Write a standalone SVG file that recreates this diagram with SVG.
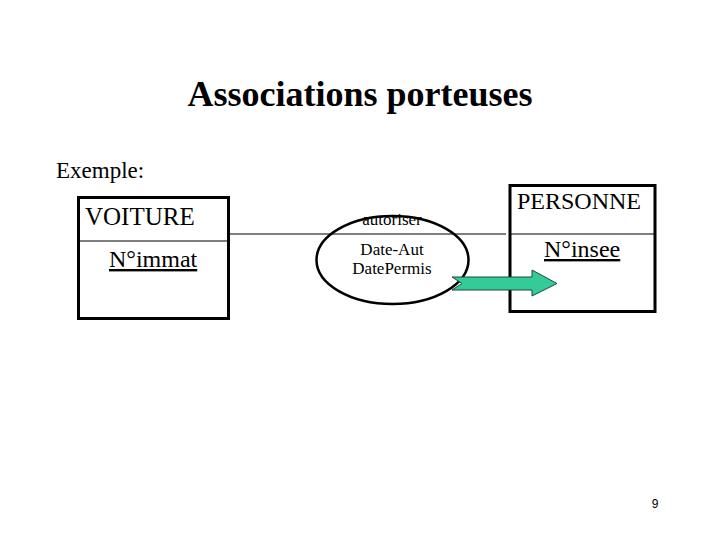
<svg xmlns="http://www.w3.org/2000/svg" width="720" height="540" viewBox="0 0 720 540">
<style>
text{font-family:"Liberation Serif","Times New Roman",serif;fill:#000}
.box{fill:#fff;stroke:#000;stroke-width:3}
.thin{stroke:#000;stroke-width:1.2;fill:none}
.t24{font-size:24px}
.t17{font-size:17px}
</style>
<rect width="720" height="540" fill="#fff"/>
<text x="360" y="106" text-anchor="middle" font-size="36" font-weight="bold">Associations porteuses</text>
<text x="56" y="178" font-size="23">Exemple:</text>
<g id="connectors">
<line class="thin" x1="229" y1="234" x2="506" y2="234"/>
</g>
<g id="voiture">
<rect class="box" x="78.5" y="197.5" width="150" height="121"/>
<line class="thin" x1="80" y1="241" x2="227" y2="241"/>
<text x="85" y="225" font-size="25">VOITURE</text>
<text class="t24" x="109" y="267" text-decoration="underline">N°immat</text>
</g>
<g id="autoriser">
<ellipse cx="392.5" cy="260" rx="76" ry="44" fill="none" stroke="#000" stroke-width="2.5"/>
<text class="t17" x="392" y="225" text-anchor="middle">autoriser</text>
<text class="t17" x="392" y="255" text-anchor="middle">Date-Aut</text>
<text class="t17" x="392" y="274" text-anchor="middle">DatePermis</text>
</g>
<g id="personne">
<rect class="box" x="510" y="185.5" width="145" height="126"/>
<line class="thin" x1="511" y1="234" x2="654" y2="234"/>
<text class="t24" x="517" y="209">PERSONNE</text>
<text class="t24" x="544" y="257" text-decoration="underline">N°insee</text>
</g>
<g id="arrow">
<polygon points="452,277 532,277 532,270 557,283.5 532,296 532,290 452,290 462,283.5" fill="#33cc99" stroke="#1a4a3a" stroke-width="1"/>
</g>
<text x="655" y="508" font-size="12" text-anchor="middle" style="font-family:'Liberation Sans',Arial,sans-serif">9</text>
</svg>
